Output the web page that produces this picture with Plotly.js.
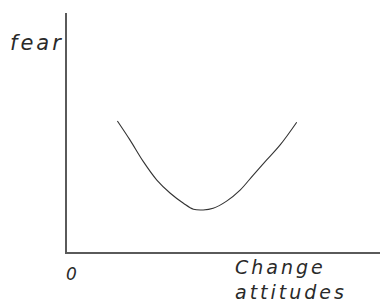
<!DOCTYPE html>
<html>
<head>
<meta charset="utf-8">
<script src="https://cdn.plot.ly/plotly-3.0.1.min.js"></script>
<style>html,body{margin:0;padding:0;background:#fff;}#chart{width:380px;height:305px;}
.annotation-text{letter-spacing:3px;}</style>
</head>
<body>
<div id="chart"></div>
<script>
var changeAttitudes = [16.1, 20.1, 24.4, 28.7, 33.0, 37.2, 40.4, 43.5, 46.7, 51.0, 55.3, 59.5, 63.8, 68.1, 73.4];
var fear = [54.8, 46.9, 37.8, 30.1, 24.6, 20.4, 17.9, 17.6, 18.3, 21.3, 25.9, 32.2, 38.5, 44.8, 54.3];
var yLabel = "fear";
var originLabel = "0";
var xLabel = "Change<br>attitudes";

var handFont = "'DejaVu Sans', sans-serif";

var trace = {
  x: changeAttitudes, y: fear, type: "scatter", mode: "lines",
  line: {color: "#333333", width: 1.1, shape: "spline", smoothing: 1},
  hoverinfo: "skip"
};

var layout = {
  width: 380, height: 305,
  margin: {l: 67, r: 0, t: 13, b: 53},
  paper_bgcolor: "#ffffff", plot_bgcolor: "#ffffff",
  showlegend: false,
  xaxis: {range: [0, 100], showgrid: false, zeroline: false, showticklabels: false, ticks: "",
          showline: true, linecolor: "#5a5a5a", linewidth: 2, fixedrange: true},
  yaxis: {range: [0, 100], showgrid: false, zeroline: false, showticklabels: false, ticks: "",
          showline: true, linecolor: "#5a5a5a", linewidth: 2, fixedrange: true},
  annotations: [
    {text: "<i>" + yLabel + "</i>", xref: "paper", yref: "paper", x: -0.19, y: 0.874,
     showarrow: false, font: {family: handFont, size: 21, color: "#2a2a2a"}, xanchor: "left", yanchor: "middle"},
    {text: "<i>" + originLabel + "</i>", xref: "paper", yref: "paper", x: -0.01, y: -0.09,
     showarrow: false, font: {family: handFont, size: 17, color: "#2a2a2a"}, xanchor: "left", yanchor: "middle"},
    {text: "<i>" + xLabel + "</i>", xref: "paper", yref: "paper", x: 0.53, y: -0.115,
     showarrow: false, font: {family: handFont, size: 19, color: "#2a2a2a"}, xanchor: "left", yanchor: "middle",
     align: "left"}
  ]
};

Plotly.newPlot("chart", [trace], layout, {displayModeBar: false, staticPlot: true});
</script>
</body>
</html>
